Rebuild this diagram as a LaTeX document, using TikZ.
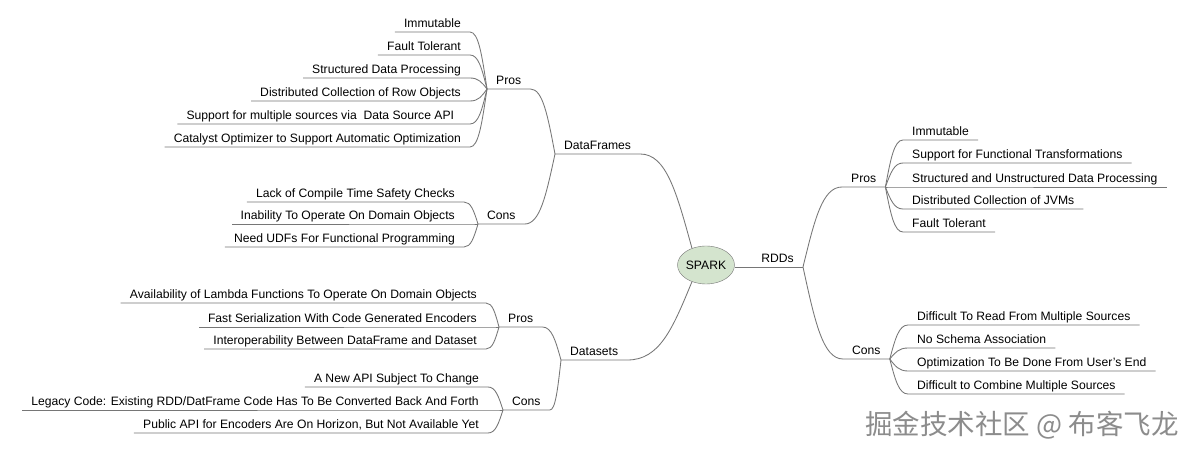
\documentclass[tikz,border=0pt]{standalone}
\usepackage{fontspec}
\setmainfont{Liberation Sans}
\newfontfamily\cjkfont{Noto Sans CJK SC}
\usetikzlibrary{calc,shapes.geometric}
\definecolor{wire}{RGB}{118,118,118}
\definecolor{hubfill}{RGB}{212,228,206}
\definecolor{markgray}{RGB}{140,140,140}

\begin{document}
\begin{tikzpicture}[x=1pt,y=-1pt,font=\fontsize{12.15}{14}\selectfont,
  hub/.style={ellipse,draw=wire,fill=hubfill,minimum width=57pt,minimum height=38pt,inner sep=0pt},
  lbl/.style={inner xsep=9pt,inner ysep=4pt,text depth=0pt},
  wires/.style={draw=wire,line width=0.85pt},
  curvy/.style={to path={let \p1=(\tikztostart),\p2=(\tikztotarget) in
    .. controls ({\x1+0.3*(\x2-\x1)},{\y1+0.6*(\y2-\y1)}) and ({\x2-0.5*(\x2-\x1)},\y2) .. (\tikztotarget)}}]
  \path[fill=white] (0,0) rectangle (1194,454);
  % ---------- hub
  \node[hub] (spark) at (706,265) {SPARK};
  % ---------- RDDs
  \node[lbl,anchor=south east] (rdds) at (803,267) {RDDs};
  \draw[wires] (spark.east |- rdds.south) -- (rdds.south east);
  \node[lbl,anchor=south west] (rddpros) at (842,187) {Pros};
  \node[lbl,anchor=south west] (rddcons) at (843,359) {Cons};
  \draw[wires] (rdds.south east) to[curvy] (rddpros.south west) -- (rddpros.south east);
  \draw[wires] (rdds.south east) to[curvy] (rddcons.south west) -- (rddcons.south east);
  \node[lbl,anchor=south west] (rp1) at (903,140) {Immutable};
  \node[lbl,anchor=south west] (rp2) at (903,163) {Support for Functional Transformations};
  \node[lbl,anchor=south west] (rp3) at (903,187) {Structured and Unstructured Data Processing};
  \node[lbl,anchor=south west] (rp4) at (903,209) {Distributed Collection of JVMs};
  \node[lbl,anchor=south west] (rp5) at (903,232) {Fault Tolerant};
  \draw[wires] (rddpros.south east) to[curvy] (rp1.south west) -- (rp1.south east);
  \draw[wires] (rddpros.south east) to[curvy] (rp2.south west) -- (rp2.south east);
  \draw[wires] (rddpros.south east) to[curvy] (rp3.south west) -- (rp3.south east);
  \draw[wires] (rddpros.south east) to[curvy] (rp4.south west) -- (rp4.south east);
  \draw[wires] (rddpros.south east) to[curvy] (rp5.south west) -- (rp5.south east);
  \node[lbl,anchor=south west] (rc1) at (908,325) {Difficult To Read From Multiple Sources};
  \node[lbl,anchor=south west] (rc2) at (908,348) {No Schema Association};
  \node[lbl,anchor=south west] (rc3) at (908,371) {Optimization To Be Done From User's End};
  \node[lbl,anchor=south west] (rc4) at (908,394) {Difficult to Combine Multiple Sources};
  \draw[wires] (rddcons.south east) to[curvy] (rc1.south west) -- (rc1.south east);
  \draw[wires] (rddcons.south east) to[curvy] (rc2.south west) -- (rc2.south east);
  \draw[wires] (rddcons.south east) to[curvy] (rc3.south west) -- (rc3.south east);
  \draw[wires] (rddcons.south east) to[curvy] (rc4.south west) -- (rc4.south east);
  % ---------- DataFrames
  \node[lbl,anchor=south west] (df) at (555,154) {DataFrames};
  \draw[wires] (spark.130) to[curvy] (df.south east) -- (df.south west);
  \node[lbl,anchor=south west] (dfpros) at (487,89) {Pros};
  \node[lbl,anchor=south west] (dfcons) at (478,224) {Cons};
  \draw[wires] (df.south west) to[curvy] (dfpros.south east) -- (dfpros.south west);
  \draw[wires] (df.south west) to[curvy] (dfcons.south east) -- (dfcons.south west);
  \node[lbl,anchor=south east] (fp1) at (470,32) {Immutable};
  \node[lbl,anchor=south east] (fp2) at (470,55) {Fault Tolerant};
  \node[lbl,anchor=south east] (fp3) at (470,78) {Structured Data Processing};
  \node[lbl,anchor=south east] (fp4) at (470,101) {Distributed Collection of Row Objects};
  \node[lbl,anchor=south east] (fp5) at (470,124) {Support for multiple sources via\ \ Data Source API\ \ \ };
  \node[lbl,anchor=south east] (fp6) at (470,147) {Catalyst Optimizer to Support Automatic Optimization};
  \draw[wires] (dfpros.south west) to[curvy] (fp1.south east) -- (fp1.south west);
  \draw[wires] (dfpros.south west) to[curvy] (fp2.south east) -- (fp2.south west);
  \draw[wires] (dfpros.south west) to[curvy] (fp3.south east) -- (fp3.south west);
  \draw[wires] (dfpros.south west) to[curvy] (fp4.south east) -- (fp4.south west);
  \draw[wires] (dfpros.south west) to[curvy] (fp5.south east) -- (fp5.south west);
  \draw[wires] (dfpros.south west) to[curvy] (fp6.south east) -- (fp6.south west);
  \node[lbl,anchor=south east] (fc1) at (464,202) {Lack of Compile Time Safety Checks};
  \node[lbl,anchor=south east] (fc2) at (464,224) {Inability To Operate On Domain Objects};
  \node[lbl,anchor=south east] (fc3) at (464,247) {Need UDFs For Functional Programming};
  \draw[wires] (dfcons.south west) to[curvy] (fc1.south east) -- (fc1.south west);
  \draw[wires] (dfcons.south west) to[curvy] (fc2.south east) -- (fc2.south west);
  \draw[wires] (dfcons.south west) to[curvy] (fc3.south east) -- (fc3.south west);
  % ---------- Datasets
  \node[lbl,anchor=south west] (ds) at (561,360) {Datasets};
  \draw[wires] (spark.230) to[curvy] (ds.south east) -- (ds.south west);
  \node[lbl,anchor=south west] (dspros) at (499,327) {Pros};
  \node[lbl,anchor=south west] (dscons) at (503,410) {Cons};
  \draw[wires] (ds.south west) to[curvy] (dspros.south east) -- (dspros.south west);
  \draw[wires] (ds.south west) to[curvy] (dscons.south east) -- (dscons.south west);
  \node[lbl,anchor=south east] (sp1) at (486,303) {Availability of Lambda Functions To Operate On Domain Objects};
  \node[lbl,anchor=south east] (sp2) at (486,327) {Fast Serialization With Code Generated Encoders};
  \node[lbl,anchor=south east] (sp3) at (486,349) {Interoperability Between DataFrame and Dataset};
  \draw[wires] (dspros.south west) to[curvy] (sp1.south east) -- (sp1.south west);
  \draw[wires] (dspros.south west) to[curvy] (sp2.south east) -- (sp2.south west);
  \draw[wires] (dspros.south west) to[curvy] (sp3.south east) -- (sp3.south west);
  \node[lbl,anchor=south east] (sc1) at (488,387) {A New API Subject To Change};
  \node[lbl,anchor=south east] (sc2) at (488,410) {Legacy Code: Existing RDD/DatFrame Code Has To Be Converted Back And Forth};
  \node[lbl,anchor=south east] (sc3) at (488,433) {Public API for Encoders Are On Horizon, But Not Available Yet};
  \draw[wires] (dscons.south west) to[curvy] (sc1.south east) -- (sc1.south west);
  \draw[wires] (dscons.south west) to[curvy] (sc2.south east) -- (sc2.south west);
  \draw[wires] (dscons.south west) to[curvy] (sc3.south east) -- (sc3.south west);
  % ---------- watermark
  \node[font=\cjkfont\fontsize{27.5}{30}\selectfont,text=markgray,anchor=west,inner sep=0pt] (mark) at (865,425) {掘金技术社区 @ 布客飞龙};
\end{tikzpicture}
\end{document}
